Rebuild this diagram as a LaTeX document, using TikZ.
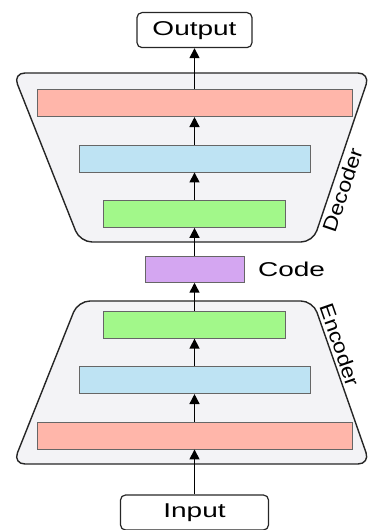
\documentclass[tikz,border=0pt]{standalone}
\usepackage{fontspec}
\setsansfont[FakeStretch=1.4]{Liberation Sans}
\newfontfamily\edgefont[FakeStretch=1.15]{Liberation Sans}
\usepackage{tikz}
\usetikzlibrary{arrows.meta}
\usetikzlibrary{positioning}
\definecolor{layerred}{HTML}{FFB6AA}
\definecolor{layerblue}{HTML}{BEE3F3}
\definecolor{layergreen}{HTML}{A2F88A}
\definecolor{layerpurple}{HTML}{D4A6F1}
\definecolor{stagefill}{HTML}{F3F3F6}
\tikzset{
  layer/.style={draw=black!60, line width=0.9pt, minimum height=27pt, inner sep=0pt},
  io/.style={draw=black!85, line width=1.2pt, rounded corners=5pt,
    minimum height=35pt, font=\sffamily\fontsize{20}{24}\selectfont},
  stage/.style={draw=black!85, fill=stagefill, line width=1.4pt, rounded corners=12pt},
  stagelabel/.style={sloped, inner sep=3pt, font=\edgefont\fontsize{20}{24}\selectfont}
}

\begin{document}
\begin{tikzpicture}[->,>={Triangle[length=10pt,width=10pt]},
      x=1pt, y=1pt,
      node distance=55.4pt,
      on grid,
      line width=1.5pt]

    \useasboundingbox (0,0) rectangle (371,530);

    % outlines of the two halves
    \coordinate (EncTL) at (78,229);
    \coordinate (EncTR) at (313,229);
    \coordinate (EncBR) at (370,66);
    \coordinate (EncBL) at (13,66);
    \coordinate (DecTL) at (13,457);
    \coordinate (DecTR) at (370,457);
    \coordinate (DecBR) at (313,288);
    \coordinate (DecBL) at (80,288);

    \draw[stage,-] (EncTL) -- (EncTR) -- (EncBR) -- (EncBL) -- cycle;
    \draw[stage,-] (DecTL) -- (DecTR) -- (DecBR) -- (DecBL) -- cycle;

    \path[-] (EncTR) -- node[stagelabel, pos=0.29, anchor=south] {Encoder} (EncBR);
    \path[-] (DecBR) -- node[stagelabel, pos=0.33, anchor=north] {Decoder} (DecTR);

    % layers
    \node[layer, fill=layerred, minimum width=315pt]
      (EncWide) at (194.5,94.5) {};
    \node[layer, fill=layerblue, minimum width=231pt]
      (EncMid) [above=of EncWide] {};
    \node[layer, fill=layergreen, minimum width=182pt]
      (EncNarrow) [above=of EncMid] {};
    \node[layer, fill=layerpurple, minimum width=99pt, minimum height=26pt]
      (Code) [above=of EncNarrow] {};
    \node[layer, fill=layergreen, minimum width=182pt]
      (DecNarrow) [above=of Code] {};
    \node[layer, fill=layerblue, minimum width=231pt]
      (DecMid) [above=of DecNarrow] {};
    \node[layer, fill=layerred, minimum width=315pt]
      (DecWide) [above=of DecMid] {};
    \node[io, minimum width=115pt]
      (Output) [above=73pt of DecWide] {Output};
    \node[io, minimum width=148pt]
      (Input) [below=77pt of EncWide] {Input};
    \node[font=\sffamily\fontsize{20}{24}\selectfont]
      (CodeText) [right=97pt of Code] {Code};

    \path[->]
      (Input) edge (EncWide)
      (EncWide) edge (EncMid)
      (EncMid) edge (EncNarrow)
      (EncNarrow) edge (Code)
      (Code) edge (DecNarrow)
      (DecNarrow) edge (DecMid)
      (DecMid) edge (DecWide)
      (DecWide) edge (Output);

  \end{tikzpicture}
\end{document}
